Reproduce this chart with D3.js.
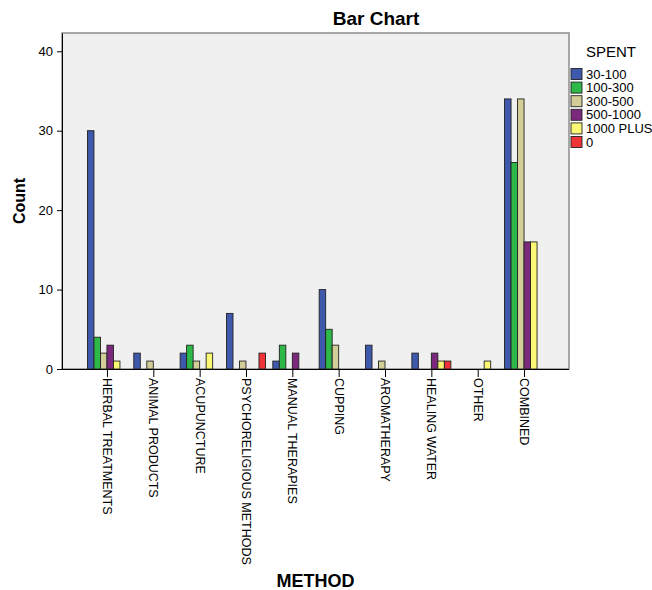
<!DOCTYPE html>
<html>
<head>
<meta charset="utf-8">
<script src="https://d3js.org/d3.v7.min.js"></script>
<style>
  html, body { margin: 0; padding: 0; background: #fff; }
  svg { display: block; font-family: "Liberation Sans", Arial, sans-serif; }
</style>
</head>
<body>
<svg id="chart" width="652" height="590"></svg>
<script>
const categories = ["HERBAL TREATMENTS", "ANIMAL PRODUCTS", "ACUPUNCTURE", "PSYCHORELIGIOUS METHODS",
  "MANUAL THERAPIES", "CUPPING", "AROMATHERAPY", "HEALING WATER", "OTHER", "COMBINED"];
const seriesNames = ["30-100", "100-300", "300-500", "500-1000", "1000 PLUS", "0"];
const s30_100   = [30, 2, 2, 7, 1, 10, 3, 2, 0, 34];
const s100_300  = [4, 0, 3, 0, 3, 5, 0, 0, 0, 26];
const s300_500  = [2, 1, 1, 1, 0, 3, 1, 0, 0, 34];
const s500_1000 = [3, 0, 0, 0, 2, 0, 0, 2, 0, 16];
const s1000plus = [1, 0, 2, 0, 0, 0, 0, 1, 1, 16];
const s0        = [0, 0, 0, 2, 0, 0, 0, 1, 0, 0];
const yTicks = [0, 10, 20, 30, 40];
const colors = ["#3E58AC", "#2EB848", "#D3CE97", "#7C287D", "#FBF873", "#EF3338"];

const seriesValues = [s30_100, s100_300, s300_500, s500_1000, s1000plus, s0];

const svg = d3.select("#chart");
const L = 62, R = 569, T = 33, B = 369;

const x = d3.scalePoint().domain(categories).range([L, R]).padding(0.97);
const inner = d3.scaleBand().domain(seriesNames).range([-19.5, 19.5]).padding(0);
const y = d3.scaleLinear().domain([0, 42.3]).range([B, T]);

// plot background
svg.append("rect").attr("x", L).attr("y", T).attr("width", R - L).attr("height", B - T)
  .attr("fill", "#F0F0F0").attr("stroke", "#8c8c8c").attr("stroke-width", 1.5);

// bars
const flat = [];
categories.forEach((c, ci) => {
  seriesNames.forEach((s, si) => {
    const v = seriesValues[si][ci];
    if (v > 0) flat.push({ c, s, si, v });
  });
});
svg.append("g").selectAll("rect").data(flat).join("rect")
  .attr("x", d => x(d.c) + inner(d.s))
  .attr("y", d => y(d.v))
  .attr("width", inner.bandwidth())
  .attr("height", d => y(0) - y(d.v))
  .attr("fill", d => colors[d.si])
  .attr("stroke", "#222").attr("stroke-width", 0.9);

// y axis
const yAxis = svg.append("g").attr("transform", `translate(${L},0)`)
  .call(d3.axisLeft(y).tickValues(yTicks).tickSize(5).tickPadding(4).tickSizeOuter(0));
yAxis.select(".domain").attr("stroke", "#000");
yAxis.selectAll("text").attr("font-size", 13).attr("fill", "#000").attr("font-family", "Liberation Sans, Arial, sans-serif");

// x axis
const xAxis = svg.append("g").attr("transform", `translate(0,${B})`)
  .call(d3.axisBottom(x).tickSize(8).tickSizeOuter(0));
xAxis.select(".domain").attr("stroke", "#000").attr("d", `M${L},0.5H${R}`);
xAxis.selectAll("text")
  .attr("font-size", 12.5).attr("fill", "#000").attr("font-family", "Liberation Sans, Arial, sans-serif")
  .attr("transform", "rotate(90)")
  .attr("x", 9).attr("y", 0).attr("dy", "0.35em")
  .style("text-anchor", "start");

// title
svg.append("text").attr("x", 376).attr("y", 25).attr("text-anchor", "middle")
  .attr("font-size", 19).attr("font-weight", "bold").text("Bar Chart");

// axis titles
svg.append("text").attr("transform", `translate(25,${(T + B) / 2}) rotate(-90)`)
  .attr("text-anchor", "middle").attr("font-size", 16).attr("font-weight", "bold").text("Count");
svg.append("text").attr("x", (L + R) / 2).attr("y", 587).attr("text-anchor", "middle")
  .attr("font-size", 18).attr("font-weight", "bold").text("METHOD");

// legend
const lg = svg.append("g");
lg.append("text").attr("x", 586).attr("y", 57).attr("font-size", 15).text("SPENT");
const rows = lg.selectAll("g.row").data(seriesNames).join("g").attr("class", "row")
  .attr("transform", (d, i) => `translate(571,${74 + i * 13.6})`);
rows.append("rect").attr("x", 0).attr("y", -5.5).attr("width", 11).attr("height", 11)
  .attr("fill", (d, i) => colors[i]).attr("stroke", "#222").attr("stroke-width", 0.9);
rows.append("text").attr("x", 15).attr("y", 0).attr("dy", "0.36em").attr("font-size", 13).text(d => d);
</script>
</body>
</html>
